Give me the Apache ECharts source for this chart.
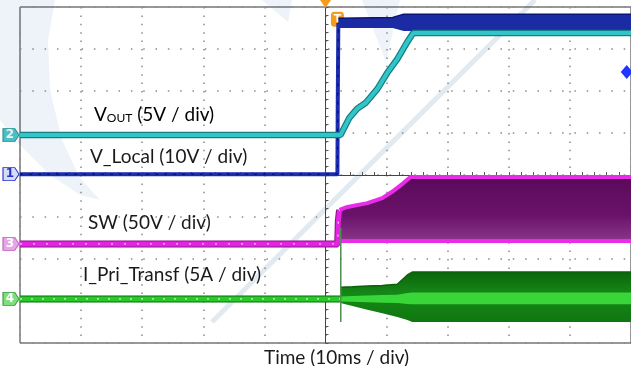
<!DOCTYPE html>
<html>
<head>
<meta charset="utf-8">
<script src="https://cdn.jsdelivr.net/npm/echarts@6/dist/echarts.min.js"></script>
<style>
  html, body { margin: 0; padding: 0; background: #fff; }
  #chart { width: 631px; height: 366px; }
</style>
</head>
<body>
<div id="chart"></div>
<script>
// time axis: ms relative to trigger (10 ms / div); level axis: divisions from screen centre
var vOutT = [-50, 2.45, 3.9, 5.2, 6.6, 8.5, 10.1, 11.75, 13.4, 14.35, 50];
var vOutV = [0.95, 0.95, 1.36, 1.58, 1.72, 2.05, 2.43, 2.76, 3.17, 3.38, 3.38];

var vLocT = [-50, 1.95, 2.0, 2.1];
var vLocV = [0.02, 0.02, 1.6, 3.62];
var vLocBandT = [2.1, 11.0, 12.8, 50];
var vLocBandLo = [3.5, 3.5, 3.43, 3.43];
var vLocBandHi = [3.73, 3.75, 3.83, 3.83];

var swT = [-50, 2.0, 2.1, 2.3];
var swV = [-1.64, -1.64, -1.1, -0.83];
var swBandT = [2.3, 2.45, 3.6, 6.85, 9.3, 10.9, 12.6, 13.9, 50];
var swBandLo = [-1.57, -1.57, -1.57, -1.57, -1.57, -1.57, -1.57, -1.57, -1.57];
var swBandHi = [-0.83, -0.83, -0.76, -0.67, -0.55, -0.4, -0.21, -0.05, -0.05];

var iPriT = [-50, 2.45];
var iPriV = [-2.95, -2.95];
var iPriBandT = [2.45, 4.4, 6.85, 9.3, 11.75, 13.4, 14.2, 50];
var iPriBandLo = [-3.05, -3.12, -3.21, -3.29, -3.38, -3.45, -3.5, -3.5];
var iPriBandHi = [-2.67, -2.66, -2.64, -2.63, -2.6, -2.38, -2.31, -2.31];
var iPriCoreLo = [-3.01, -3.02, -3.03, -3.04, -3.05, -3.07, -3.08, -3.08];
var iPriCoreHi = [-2.89, -2.88, -2.87, -2.86, -2.85, -2.81, -2.8, -2.8];
var iPriSpikeT = [2.5, 2.5];
var iPriSpikeV = [-1.26, -3.5];

var channelLevels = { '1': 0.02, '2': 0.95, '3': -1.64, '4': -2.95 };

function pts(t, v) { return t.map(function (x, i) { return [x, v[i]]; }); }

function trace(name, t, v, color, width, z, dash) {
  return { name: name, type: 'line', data: pts(t, v), symbol: 'none', z: z,
    lineStyle: { color: color, width: width, type: dash || 'solid' }, animation: false, silent: true };
}

// filled envelope between lo and hi, drawn as one polygon through the axes
function band(name, t, lo, hi, fill, z) {
  return { name: name, type: 'custom', z: z, animation: false, silent: true, clip: true,
    data: [[t[0], lo[0]]],
    renderItem: function (params, api) {
      var p = [];
      for (var i = 0; i < t.length; i++) p.push(api.coord([t[i], hi[i]]));
      for (var j = t.length - 1; j >= 0; j--) p.push(api.coord([t[j], lo[j]]));
      return { type: 'polygon', shape: { points: p }, style: { fill: fill } };
    } };
}

function grad(stops) {
  return { type: 'linear', x: 0, y: 0, x2: 0, y2: 1,
    colorStops: stops.map(function (s) { return { offset: s[0], color: s[1] }; }) };
}

var tagPath = 'path://M0,0H11L15,6L11,12H0Z';
function tag(num, fill, border, text) {
  return { coord: [-50, channelLevels[num]], symbol: tagPath, symbolSize: [16, 13],
    symbolOffset: [-9, 0],
    itemStyle: { color: fill, borderColor: border, borderWidth: 1 },
    label: { show: true, position: 'inside', formatter: num, color: text,
      fontSize: 12, fontWeight: 'bold', fontFamily: 'DejaVu Sans', offset: [-1, 0] } };
}

var chart = echarts.init(document.getElementById('chart'), null, { renderer: 'canvas' });

var series = [];
// I_Pri_Transf
series.push(trace('iEdge', iPriT, iPriV, '#0b6b0b', 7, 2));
series.push(trace('iPri', iPriT, iPriV, '#26cc26', 5, 3));
series.push(trace('iNoise', iPriT, iPriV, '#f4fff4', 1, 3, [2, 9]));
series.push(band('ib', iPriBandT, iPriBandLo, iPriBandHi,
  grad([[0, '#0c660c'], [0.45, '#168818'], [1, '#0f760f']]), 3));
series.push(trace('ibHi', iPriBandT, iPriBandHi, '#0a620a', 1.5, 3));
series.push(band('ic', iPriBandT, iPriCoreLo, iPriCoreHi, '#38d638', 4));
// SW
series.push(trace('swEdge', swT, swV, '#8a108a', 7, 5));
series.push(trace('sw', swT, swV, '#e324e3', 5, 6));
series.push(trace('swNoise', swT, swV, '#fff0ff', 1, 6, [2, 11]));
series.push(band('sb', swBandT, swBandLo, swBandHi,
  grad([[0, '#5a0a5a'], [0.6, '#6a126a'], [1, '#8a368a']]), 5));
series.push(trace('swHi', swBandT, swBandHi, '#e82ce8', 4, 6));
series.push(trace('swLo', swBandT, swBandLo, '#e82ce8', 4, 6));
series.push(trace('iSpike', iPriSpikeT, iPriSpikeV, '#4f8f4f', 1.5, 7));
// V_Local
series.push(trace('vLoc', vLocT, vLocV, '#1b2cb0', 4, 8));
series.push(trace('vLocNoise', vLocT, vLocV, '#000a66', 1, 8, [3, 6]));
series.push(band('vb', vLocBandT, vLocBandLo, vLocBandHi, '#1a2ba4', 8));
series.push(trace('vbHi', vLocBandT, vLocBandHi, '#0b1478', 1.5, 8));
// VOUT
series.push(trace('vOutEdge', vOutT, vOutV, '#137f84', 6.5, 9));
series.push(trace('vOut', vOutT, vOutV, '#33c4c8', 4, 10));

// channel tags and scope markers
series[1].markPoint = { silent: true, animation: false,
  data: [tag('4', '#7ede7e', '#3a9a3a', '#ffffff')] };
series[series.length - 1].markPoint = { silent: true, animation: false,
  data: [
    tag('2', '#4cbfc2', '#2a8f92', '#e8f4f4'),
    tag('1', '#d6dcf6', '#2233cc', '#2233cc'),
    tag('3', '#e6a6e6', '#c060c0', '#ffffff'),
    { coord: [0, 4], symbol: 'triangle', symbolRotate: 180, symbolSize: [11, 8], symbolOffset: [0, -3],
      itemStyle: { color: '#f39c1e' }, label: { show: false } },
    { coord: [1.95, 3.71], symbol: 'roundRect', symbolSize: [13, 15],
      itemStyle: { color: '#f39c1e' },
      label: { show: true, position: 'inside', formatter: 'T', color: '#fff', fontSize: 11,
        fontWeight: 'bold', fontFamily: 'DejaVu Sans' } },
    { coord: [49.3, 2.45], symbol: 'diamond', symbolSize: [12, 14],
      itemStyle: { color: '#2036ff' }, label: { show: false } }
  ] };

var labelFont = 'Lato';
var option = {
  animation: false,
  grid: { left: 20, top: 7, width: 616, height: 336, show: true, borderColor: '#333', borderWidth: 1,
    backgroundColor: 'transparent' },
  title: { text: 'Time (10ms / div)', left: 259, top: 343,
    textStyle: { fontFamily: labelFont, fontSize: 19, fontWeight: 'normal', color: '#1a1a1a' } },
  xAxis: {
    type: 'value', min: -50, max: 50, interval: 10,
    axisLine: { onZero: true, lineStyle: { color: '#444', width: 1 } },
    axisTick: { show: true, inside: true, length: 3, lineStyle: { color: '#555' } },
    minorTick: { show: true, splitNumber: 5, length: 3, lineStyle: { color: '#555' } },
    axisLabel: { show: false },
    splitLine: { show: true, lineStyle: { color: '#8a8a8a', width: 1.5, type: [1.5, 6.9], dashOffset: 0 } }
  },
  yAxis: {
    type: 'value', min: -4, max: 4, interval: 1,
    axisLine: { onZero: true, lineStyle: { color: '#444', width: 1 } },
    axisTick: { show: true, inside: true, length: 3, lineStyle: { color: '#555' } },
    minorTick: { show: true, splitNumber: 5, length: 3, lineStyle: { color: '#555' } },
    axisLabel: { show: false },
    splitLine: { show: true, lineStyle: { color: '#8a8a8a', width: 1.5, type: [1.5, 10.82], dashOffset: 0 } }
  },
  graphic: [
    // faint watermark
    { type: 'polygon', z: -10, silent: true,
      shape: { points: [[0, 0], [55, 0], [48, 40], [50, 90], [62, 140], [80, 178], [100, 200], [80, 195], [50, 175], [20, 145], [0, 120]] },
      style: { fill: '#edf3f9' } },
    { type: 'polygon', z: -10, silent: true, shape: { points: [[262, 0], [292, 0], [288, 22]] },
      style: { fill: '#edf3f9' } },
    { type: 'polygon', z: -10, silent: true, shape: { points: [[362, 0], [400, 0], [386, 62]] },
      style: { fill: '#edf3f9' } },
    { type: 'line', z: -10, silent: true, shape: { x1: 212, y1: 322, x2: 535, y2: 0 },
      style: { stroke: '#e2eaf1', lineWidth: 5 } },
    // channel annotations
    { type: 'text', left: 94, top: 105, z: 50, style: {
      text: '{v|V}{s|OUT}{v| (5V / div)}',
      rich: { v: { fontFamily: labelFont, fontSize: 19, color: '#1a1a1a' },
        s: { fontFamily: labelFont, fontSize: 12, color: '#1a1a1a', padding: [8, 0, 0, 0] } } } },
    { type: 'text', left: 90, top: 147, z: 50, style: { text: 'V_Local (10V / div)',
      fontFamily: labelFont, fontSize: 19, fill: '#1a1a1a' } },
    { type: 'text', left: 88, top: 213, z: 50, style: { text: 'SW (50V / div)',
      fontFamily: labelFont, fontSize: 19, fill: '#1a1a1a' } },
    { type: 'text', left: 83, top: 265, z: 50, style: { text: 'I_Pri_Transf (5A / div)',
      fontFamily: labelFont, fontSize: 19, fill: '#1a1a1a' } }
  ],
  series: series
};
chart.setOption(option);
</script>
</body>
</html>
